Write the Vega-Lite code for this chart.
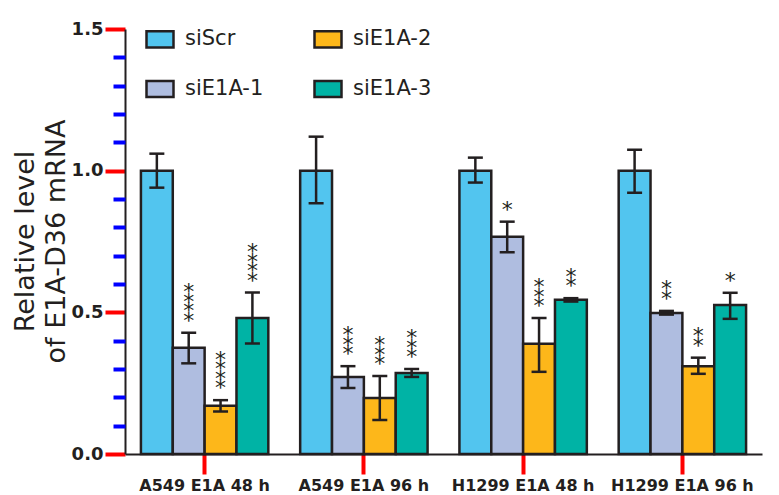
{
  "$schema": "https://vega.github.io/schema/vega-lite/v6.json",
  "width": 637,
  "height": 425,
  "autosize": {"type": "none"},
  "padding": {"left": 125, "top": 29, "right": 17, "bottom": 41},
  "background": "white",
  "config": {
    "view": {"stroke": null},
    "font": "DejaVu Sans",
    "axis": {"domainColor": "#231f20", "domainWidth": 2, "labelColor": "#231f20", "titleColor": "#231f20", "grid": false}
  },
  "data": {
    "values": [
      {"group": "A549 E1A 48 h", "series": "siScr", "value": 1.0, "lo": 0.94, "hi": 1.06, "stars": "", "n": 0},
      {"group": "A549 E1A 48 h", "series": "siE1A-1", "value": 0.375, "lo": 0.32, "hi": 0.428, "stars": "*\n*\n*\n*", "n": 4},
      {"group": "A549 E1A 48 h", "series": "siE1A-2", "value": 0.17, "lo": 0.15, "hi": 0.19, "stars": "*\n*\n*\n*", "n": 4},
      {"group": "A549 E1A 48 h", "series": "siE1A-3", "value": 0.48, "lo": 0.39, "hi": 0.57, "stars": "*\n*\n*\n*", "n": 4},
      {"group": "A549 E1A 96 h", "series": "siScr", "value": 1.0, "lo": 0.885, "hi": 1.12, "stars": "", "n": 0},
      {"group": "A549 E1A 96 h", "series": "siE1A-1", "value": 0.272, "lo": 0.233, "hi": 0.31, "stars": "*\n*\n*", "n": 3},
      {"group": "A549 E1A 96 h", "series": "siE1A-2", "value": 0.198, "lo": 0.12, "hi": 0.275, "stars": "*\n*\n*", "n": 3},
      {"group": "A549 E1A 96 h", "series": "siE1A-3", "value": 0.286, "lo": 0.272, "hi": 0.3, "stars": "*\n*\n*", "n": 3},
      {"group": "H1299 E1A 48 h", "series": "siScr", "value": 1.0, "lo": 0.958, "hi": 1.046, "stars": "", "n": 0},
      {"group": "H1299 E1A 48 h", "series": "siE1A-1", "value": 0.767, "lo": 0.712, "hi": 0.82, "stars": "*", "n": 1},
      {"group": "H1299 E1A 48 h", "series": "siE1A-2", "value": 0.389, "lo": 0.29, "hi": 0.48, "stars": "*\n*\n*", "n": 3},
      {"group": "H1299 E1A 48 h", "series": "siE1A-3", "value": 0.544, "lo": 0.538, "hi": 0.55, "stars": "*\n*", "n": 2},
      {"group": "H1299 E1A 96 h", "series": "siScr", "value": 1.0, "lo": 0.922, "hi": 1.074, "stars": "", "n": 0},
      {"group": "H1299 E1A 96 h", "series": "siE1A-1", "value": 0.498, "lo": 0.492, "hi": 0.505, "stars": "*\n*", "n": 2},
      {"group": "H1299 E1A 96 h", "series": "siE1A-2", "value": 0.31, "lo": 0.283, "hi": 0.34, "stars": "*\n*", "n": 2},
      {"group": "H1299 E1A 96 h", "series": "siE1A-3", "value": 0.526, "lo": 0.477, "hi": 0.569, "stars": "*", "n": 1}
    ]
  },
  "encoding": {
    "x": {
      "field": "group", "type": "nominal",
      "sort": ["A549 E1A 48 h", "A549 E1A 96 h", "H1299 E1A 48 h", "H1299 E1A 96 h"],
      "scale": {"paddingInner": 0.2, "paddingOuter": 0.1},
      "axis": {"title": null, "labelAngle": 0, "labelFontSize": 16, "labelFontWeight": "bold", "ticks": true, "tickSize": 20, "tickWidth": 4, "tickColor": "red", "tickOpacity": 1, "labelPadding": 3}
    },
    "xOffset": {
      "field": "series", "type": "nominal",
      "sort": ["siScr", "siE1A-1", "siE1A-2", "siE1A-3"],
      "scale": {"paddingInner": 0, "paddingOuter": 0}
    }
  },
  "layer": [
    {
      "mark": {"type": "bar", "stroke": "#231f20", "strokeWidth": 2.5},
      "encoding": {
        "y": {
          "field": "value", "type": "quantitative",
          "scale": {"domain": [0, 1.5], "nice": false},
          "axis": {
            "orient": "left",
            "values": [0, 0.5, 1.0, 1.5], "format": ".1f",
            "ticks": true, "tickSize": 20, "tickWidth": 4, "tickColor": "red", "tickOpacity": 1,
            "labelFontSize": 18, "labelFontWeight": "bold", "labelPadding": 2,
            "title": ["Relative level", "of E1A-D36 mRNA"],
            "titleFontSize": 27, "titleFontWeight": "normal", "titleLineHeight": 31,
            "titleAngle": 270, "titleBaseline": "bottom", "titleAlign": "center",
            "titleX": -86, "titleY": 212
          }
        },
        "color": {
          "field": "series", "type": "nominal",
          "scale": {"domain": ["siScr", "siE1A-1", "siE1A-2", "siE1A-3"], "range": ["#52C5EF", "#AFBDE0", "#FDB71A", "#00B3A5"]},
          "legend": {
            "orient": "none", "legendX": 20, "legendY": -5, "columns": 2, "title": null,
            "symbolType": "M-1,-0.6H1V0.6H-1Z", "symbolSize": 729, "symbolStrokeColor": "#231f20", "symbolStrokeWidth": 2.5,
            "symbolOpacity": 1,
            "labelFontSize": 21, "labelColor": "#231f20", "labelOffset": 10,
            "rowPadding": 21, "columnPadding": 45
          }
        }
      }
    },
    {
      "mark": {"type": "rule", "strokeWidth": 2.5, "color": "#231f20"},
      "encoding": {
        "y": {
          "field": "lo", "type": "quantitative",
          "axis": {"orient": "left", "values": [0.1, 0.2, 0.3, 0.4, 0.6, 0.7, 0.8, 0.9, 1.1, 1.2, 1.3, 1.4], "labels": false, "domain": false, "ticks": true, "tickSize": 12, "tickWidth": 4, "tickColor": "blue", "tickOpacity": 1, "title": null}
        },
        "y2": {"field": "hi"}
      }
    },
    {
      "mark": {"type": "tick", "thickness": 2.5, "size": 15, "color": "#231f20", "opacity": 1},
      "encoding": {"y": {"field": "lo", "type": "quantitative", "axis": null}}
    },
    {
      "mark": {"type": "tick", "thickness": 2.5, "size": 15, "color": "#231f20", "opacity": 1},
      "encoding": {"y": {"field": "hi", "type": "quantitative", "axis": null}}
    },
    {
      "transform": [{"filter": "datum.n == 1"}],
      "mark": {"type": "text", "baseline": "alphabetic", "align": "center", "lineBreak": "\n", "fontSize": 22, "lineHeight": 9.5, "dy": -5, "color": "#231f20"},
      "encoding": {"y": {"field": "hi", "type": "quantitative", "axis": null}, "text": {"field": "stars"}}
    },
    {
      "transform": [{"filter": "datum.n == 2"}],
      "mark": {"type": "text", "baseline": "alphabetic", "align": "center", "lineBreak": "\n", "fontSize": 22, "lineHeight": 9.5, "dy": -14.5, "color": "#231f20"},
      "encoding": {"y": {"field": "hi", "type": "quantitative", "axis": null}, "text": {"field": "stars"}}
    },
    {
      "transform": [{"filter": "datum.n == 3"}],
      "mark": {"type": "text", "baseline": "alphabetic", "align": "center", "lineBreak": "\n", "fontSize": 22, "lineHeight": 9.5, "dy": -24, "color": "#231f20"},
      "encoding": {"y": {"field": "hi", "type": "quantitative", "axis": null}, "text": {"field": "stars"}}
    },
    {
      "transform": [{"filter": "datum.n == 4"}],
      "mark": {"type": "text", "baseline": "alphabetic", "align": "center", "lineBreak": "\n", "fontSize": 22, "lineHeight": 9.5, "dy": -33.5, "color": "#231f20"},
      "encoding": {"y": {"field": "hi", "type": "quantitative", "axis": null}, "text": {"field": "stars"}}
    }
  ],
  "resolve": {"axis": {"y": "independent"}}
}
